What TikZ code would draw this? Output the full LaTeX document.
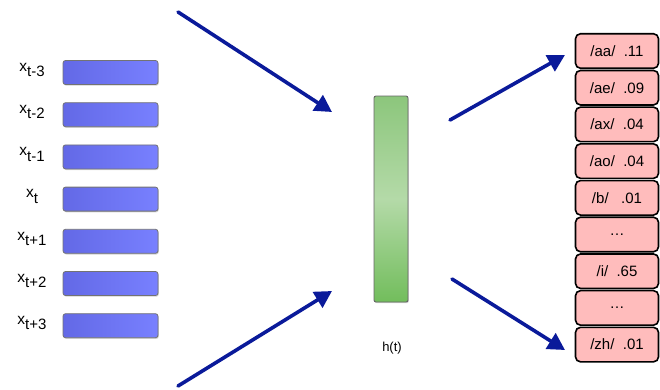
\documentclass[tikz,border=0pt]{standalone}
\usepackage{fontspec}
\setmainfont{Liberation Sans}
\usetikzlibrary{arrows.meta,shadows}
\definecolor{arrowblue}{HTML}{0A1A9A}
\definecolor{boxblueL}{HTML}{6369E6}
\definecolor{boxblueR}{HTML}{7880FF}
\definecolor{pinkfill}{HTML}{FFBCBC}
\definecolor{greentop}{HTML}{8CC67C}
\definecolor{greenmid}{HTML}{B4DAA8}
\definecolor{greenbot}{HTML}{72BD5C}
\tikzset{
  inbox/.style={draw=black!55, line width=0.8pt, rounded corners=2.5pt,
    left color=boxblueL, right color=boxblueR,
    minimum width=95pt, minimum height=24pt, inner sep=0pt,
    drop shadow={shadow xshift=0.8pt, shadow yshift=-1.2pt, opacity=0.35}},
  inlabel/.style={font=\fontsize{15.5}{17}\selectfont, inner sep=0pt},
  outbox/.style={draw=black, line width=1.6pt, rounded corners=5pt, fill=pinkfill,
    minimum width=83pt, minimum height=34.5pt, inner sep=0pt,
    font=\fontsize{15}{17}\selectfont},
  hidbar/.style={draw=black!60, line width=0.9pt, rounded corners=2pt,
    top color=greentop, bottom color=greenbot, middle color=greenmid,
    minimum width=34pt, minimum height=206pt, inner sep=0pt,
    drop shadow={shadow xshift=0.8pt, shadow yshift=-1.2pt, opacity=0.35}},
  bigarrow/.style={draw=arrowblue, line width=3.6pt, line cap=round,
    -{Triangle[length=17pt,width=18pt]}},
}
\newcommand{\xsub}[1]{x\raisebox{-5.5pt}{\fontsize{15}{16}\selectfont #1}}
\begin{document}
\begin{tikzpicture}[x=1pt,y=-1pt]
\useasboundingbox (0,0) rectangle (660,389);
% input boxes and labels
\foreach \i/\lab in {0/t-3,1/t-2,2/t-1,3/t,4/t+1,5/t+2,6/t+3}{
  \node[inbox] (in\i) at (110.5,{72.5+42.2*\i}) {};
  \node[inlabel] (lab\i) at (32,{70+42.2*\i}) {\xsub{\lab}};
}
% hidden bar
\node[hidbar] (hid) at (391,199) {};
\node[font=\fontsize{13}{15}\selectfont] (hlab) at (392,348) {h(t)};
% output boxes
\foreach \i/\lab in {0/{/aa/\ \ .11},1/{/ae/\ \ .09},2/{/ax/\ \ .04},3/{/ao/\ \ .04},4/{/b/\ \ \ .01},5/{\dots},6/{/i/\ \ .65},7/{\dots},8/{/zh/\ \ .01}}{
  \node[outbox] (out\i) at (617,{51+36.7*\i}) {\lab};
}
% arrows
\coordinate (a1s) at (178,12);
\coordinate (a1e) at (332,112);
\coordinate (a2s) at (178,386);
\coordinate (a2e) at (332,291);
\coordinate (a3s) at (450,120);
\coordinate (a3e) at (565,55);
\coordinate (a4s) at (452,279);
\coordinate (a4e) at (565,350);
\draw[bigarrow] (a1s) -- (a1e);
\draw[bigarrow] (a2s) -- (a2e);
\draw[bigarrow] (a3s) -- (a3e);
\draw[bigarrow] (a4s) -- (a4e);
\end{tikzpicture}
\end{document}
